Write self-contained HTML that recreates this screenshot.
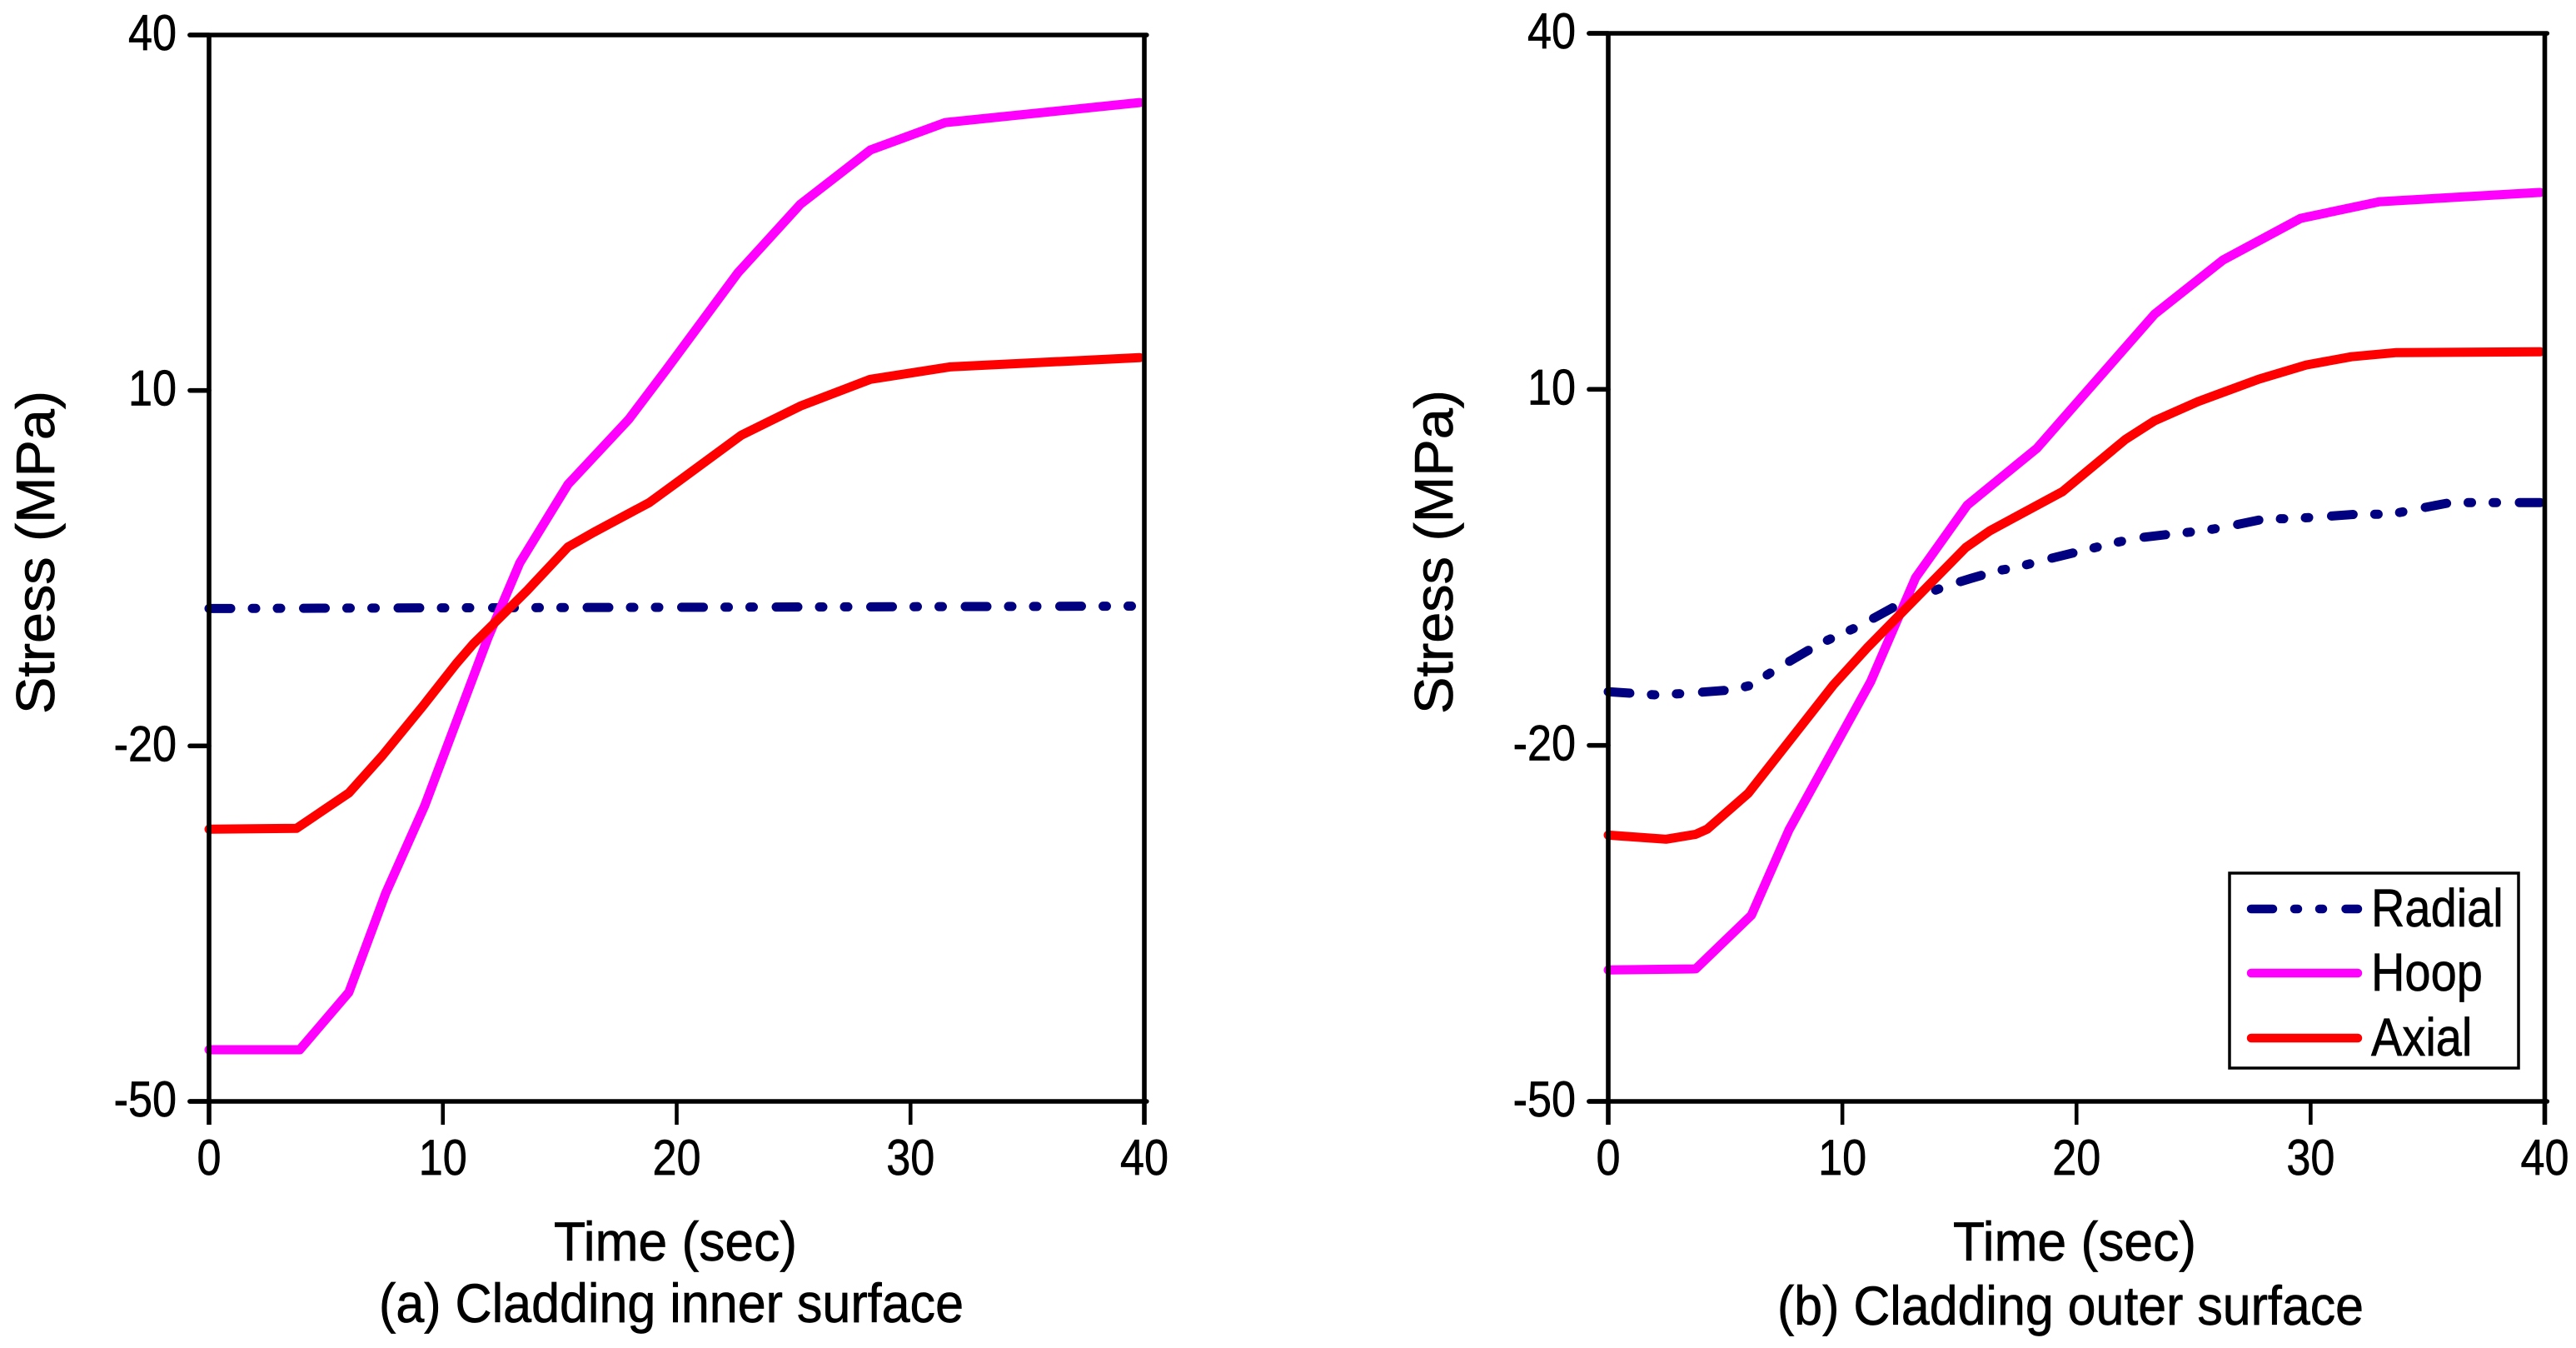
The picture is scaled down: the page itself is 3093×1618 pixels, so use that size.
<!DOCTYPE html>
<html lang="en">
<head>
<meta charset="utf-8">
<title>Cladding stress over time</title>
<style>
html,body{margin:0;padding:0;background:#fff;}
svg{display:block;}
text{font-family:"Liberation Sans",Arial,sans-serif;fill:#000;stroke:#000;stroke-width:.7px;}
</style>
</head>
<body>
<svg id="figure" xmlns="http://www.w3.org/2000/svg" width="3093" height="1618" viewBox="0 0 3093 1618">
  <rect x="0" y="0" width="3093" height="1618" fill="#fff"/>
  <g id="panel-a"></g>
  <g id="panel-b"></g>

  <text transform="translate(65,857) rotate(-90)" font-size="65" textLength="388" lengthAdjust="spacingAndGlyphs">Stress (MPa)</text>
  <text x="665" y="1513" font-size="66" textLength="292" lengthAdjust="spacingAndGlyphs">Time (sec)</text>
  <text x="455" y="1587" font-size="66" textLength="702" lengthAdjust="spacingAndGlyphs">(a) Cladding inner surface</text>

  <text transform="translate(1744,857) rotate(-90)" font-size="65" textLength="389" lengthAdjust="spacingAndGlyphs">Stress (MPa)</text>
  <text x="2345" y="1513" font-size="66" textLength="292" lengthAdjust="spacingAndGlyphs">Time (sec)</text>
  <text x="2134" y="1590" font-size="66" textLength="704" lengthAdjust="spacingAndGlyphs">(b) Cladding outer surface</text>

  <g>
    <rect x="2677" y="1048" width="347" height="234" fill="#fff" stroke="#000" stroke-width="3.5"/>
    <g>
      <line x1="2703" y1="1091" x2="2831" y2="1091" stroke="#000080" stroke-width="10.5" stroke-linecap="round" stroke-dasharray="26 26 4 26 4 27.5"/>
      <text transform="translate(2847,1112) scale(.875,1)" font-size="64">Radial</text>
    </g>
    <g>
      <line x1="2703" y1="1168" x2="2831" y2="1168" stroke="#ff00ff" stroke-width="10.5" stroke-linecap="round"/>
      <text transform="translate(2847,1189) scale(.875,1)" font-size="64">Hoop</text>
    </g>
    <g>
      <line x1="2703" y1="1246" x2="2831" y2="1246" stroke="#ff0000" stroke-width="10.5" stroke-linecap="round"/>
      <text transform="translate(2847,1267) scale(.875,1)" font-size="64">Axial</text>
    </g>
  </g>
</svg>

<script>
// Axis tick labels
const xTickValues = [0, 10, 20, 30, 40];
const yTickValues = [40, 10, -20, -50];

// Panel (a) cladding inner surface: time in sec, stress in MPa
const aRadialTime = [0, 10, 20, 30, 39.8];
const aRadialStress = [-8.4, -8.35, -8.3, -8.25, -8.2];
const aHoopTime = [0, 3.88, 5.98, 7.55, 9.23, 11.93, 13.29, 15.35, 17.95, 19.55, 22.62, 25.29, 28.28, 31.49, 39.8];
const aHoopStress = [-45.64, -45.64, -40.79, -32.45, -25.02, -10.88, -4.55, 2.07, 7.56, 11.75, 19.94, 25.71, 30.29, 32.61, 34.3];
const aAxialTime = [0, 3.74, 5.98, 7.4, 9.15, 10.57, 11.29, 12.32, 13.61, 15.35, 16.45, 18.84, 20.09, 22.76, 25.29, 28.28, 31.68, 39.8];
const aAxialStress = [-27.03, -26.96, -23.97, -20.84, -16.62, -13.06, -11.41, -9.4, -6.87, -3.21, -1.98, 0.55, 2.35, 6.22, 8.68, 10.94, 11.99, 12.77];

// Panel (b) cladding outer surface: time in sec, stress in MPa
const bRadialTime = [0, 2.16, 3.24, 5.34, 6.12, 7.08, 8.99, 10.74, 12.49, 14.56, 15.5, 16.62, 17.44, 18.47, 19.93, 21.39, 22.46, 23.95, 25.41, 26.44, 27.96, 29.39, 30.46, 31.96, 33.45, 34.48, 35.98, 37.44, 39.8];
const bRadialStress = [-15.48, -15.76, -15.62, -15.32, -14.92, -13.69, -11.47, -9.93, -8.03, -6.49, -5.93, -5.29, -5.01, -4.45, -3.75, -3.05, -2.56, -2.21, -1.92, -1.57, -0.94, -0.87, -0.73, -0.52, -0.52, -0.1, 0.46, 0.46, 0.46];
const bHoopTime = [0, 3.74, 6.12, 7.72, 11.21, 13.13, 15.34, 18.31, 23.33, 26.26, 29.57, 32.94, 39.8];
const bHoopStress = [-38.93, -38.83, -34.3, -27.13, -14.63, -5.86, 0.25, 5.03, 16.33, 20.9, 24.41, 25.81, 26.59];
const bAxialTime = [0, 2.47, 3.74, 4.23, 5.98, 9.61, 11.05, 15.27, 16.3, 19.4, 22.1, 23.33, 25.18, 27.79, 29.81, 31.74, 33.67, 39.8];
const bAxialStress = [-27.56, -27.91, -27.49, -27.06, -24.04, -14.92, -11.8, -3.33, -1.92, 1.38, 5.8, 7.35, 8.96, 10.86, 12.05, 12.75, 13.1, 13.17];

const SVG_NS = 'http://www.w3.org/2000/svg';

function make(parent, tag, attrs) {
  const el = document.createElementNS(SVG_NS, tag);
  Object.keys(attrs).forEach(function (k) { el.setAttribute(k, attrs[k]); });
  parent.appendChild(el);
  return el;
}

function drawSeries(group, prefix, label, times, stresses, xScale, yScale, color, dash) {
  const pts = times.map(function (t, i) {
    return xScale(t).toFixed(1) + ',' + yScale(stresses[i]).toFixed(1);
  });
  const line = make(group, 'polyline', {
    points: pts.join(' '),
    fill: 'none',
    stroke: color,
    'stroke-width': 11,
    'stroke-linejoin': 'round',
    'stroke-linecap': 'round'
  });
  if (dash) line.setAttribute('stroke-dasharray', dash);
  
  
}

function drawAxes(group, prefix, left, right, top, bottom, xScale, yScale) {
  const axisStyle = { stroke: '#000', 'stroke-width': 5.6 };

  const frameLeft = make(group, 'line', Object.assign({ x1: left, y1: top, x2: left, y2: bottom + 28 }, axisStyle));
  
  

  const frameRight = make(group, 'line', Object.assign({ x1: right, y1: top, x2: right, y2: bottom + 28 }, axisStyle));
  
  

  const frameTop = make(group, 'line', Object.assign({ x1: left - 23, y1: top, x2: right + 2.8, y2: top, 'stroke-linecap': 'round' }, axisStyle));
  
  

  const frameBottom = make(group, 'line', Object.assign({ x1: left - 23, y1: bottom, x2: right + 2.8, y2: bottom, 'stroke-linecap': 'round' }, axisStyle));
  
  

  xTickValues.forEach(function (v) {
    const x = xScale(v);
    const tick = make(group, 'line', { x1: x, y1: bottom, x2: x, y2: bottom + 28, stroke: '#000', 'stroke-width': 4.6 });
    
    
    const label = make(group, 'text', {
      transform: 'translate(' + x + ',' + (bottom + 88) + ') scale(.87,1)',
      'text-anchor': 'middle',
      'font-size': 60
    });
    label.textContent = String(v);
    
    
  });

  yTickValues.forEach(function (v) {
    const y = yScale(v);
    const tick = make(group, 'line', { x1: left - 23, y1: y, x2: left, y2: y, stroke: '#000', 'stroke-width': 5.6, 'stroke-linecap': 'round' });
    
    
    const label = make(group, 'text', {
      transform: 'translate(' + (left - 39) + ',' + (y + 18) + ') scale(.87,1)',
      'text-anchor': 'end',
      'font-size': 60
    });
    label.textContent = String(v);
    
    
  });
}

function drawPanel(groupId, prefix, left, right, top, bottom, series) {
  const group = document.getElementById(groupId);
  const xScale = function (t) { return left + (t - 0) / 40 * (right - left); };
  const yScale = function (v) { return top + (40 - v) / 90 * (bottom - top); };
  series.forEach(function (s) {
    drawSeries(group, prefix, s.label, s.times, s.stresses, xScale, yScale, s.color, s.dash);
  });
  drawAxes(group, prefix, left, right, top, bottom, xScale, yScale);
}

const RADIAL_DASH = '26 26 4 26 4 27.5';

drawPanel('panel-a', 'panel-a', 251, 1374, 42, 1322, [
  { label: 'radial', times: aRadialTime, stresses: aRadialStress, color: '#000080', dash: RADIAL_DASH },
  { label: 'hoop', times: aHoopTime, stresses: aHoopStress, color: '#ff00ff' },
  { label: 'axial', times: aAxialTime, stresses: aAxialStress, color: '#ff0000' }
]);

drawPanel('panel-b', 'panel-b', 1931, 3055.5, 40, 1322, [
  { label: 'radial', times: bRadialTime, stresses: bRadialStress, color: '#000080', dash: RADIAL_DASH },
  { label: 'hoop', times: bHoopTime, stresses: bHoopStress, color: '#ff00ff' },
  { label: 'axial', times: bAxialTime, stresses: bAxialStress, color: '#ff0000' }
]);
</script>
</body>
</html>
